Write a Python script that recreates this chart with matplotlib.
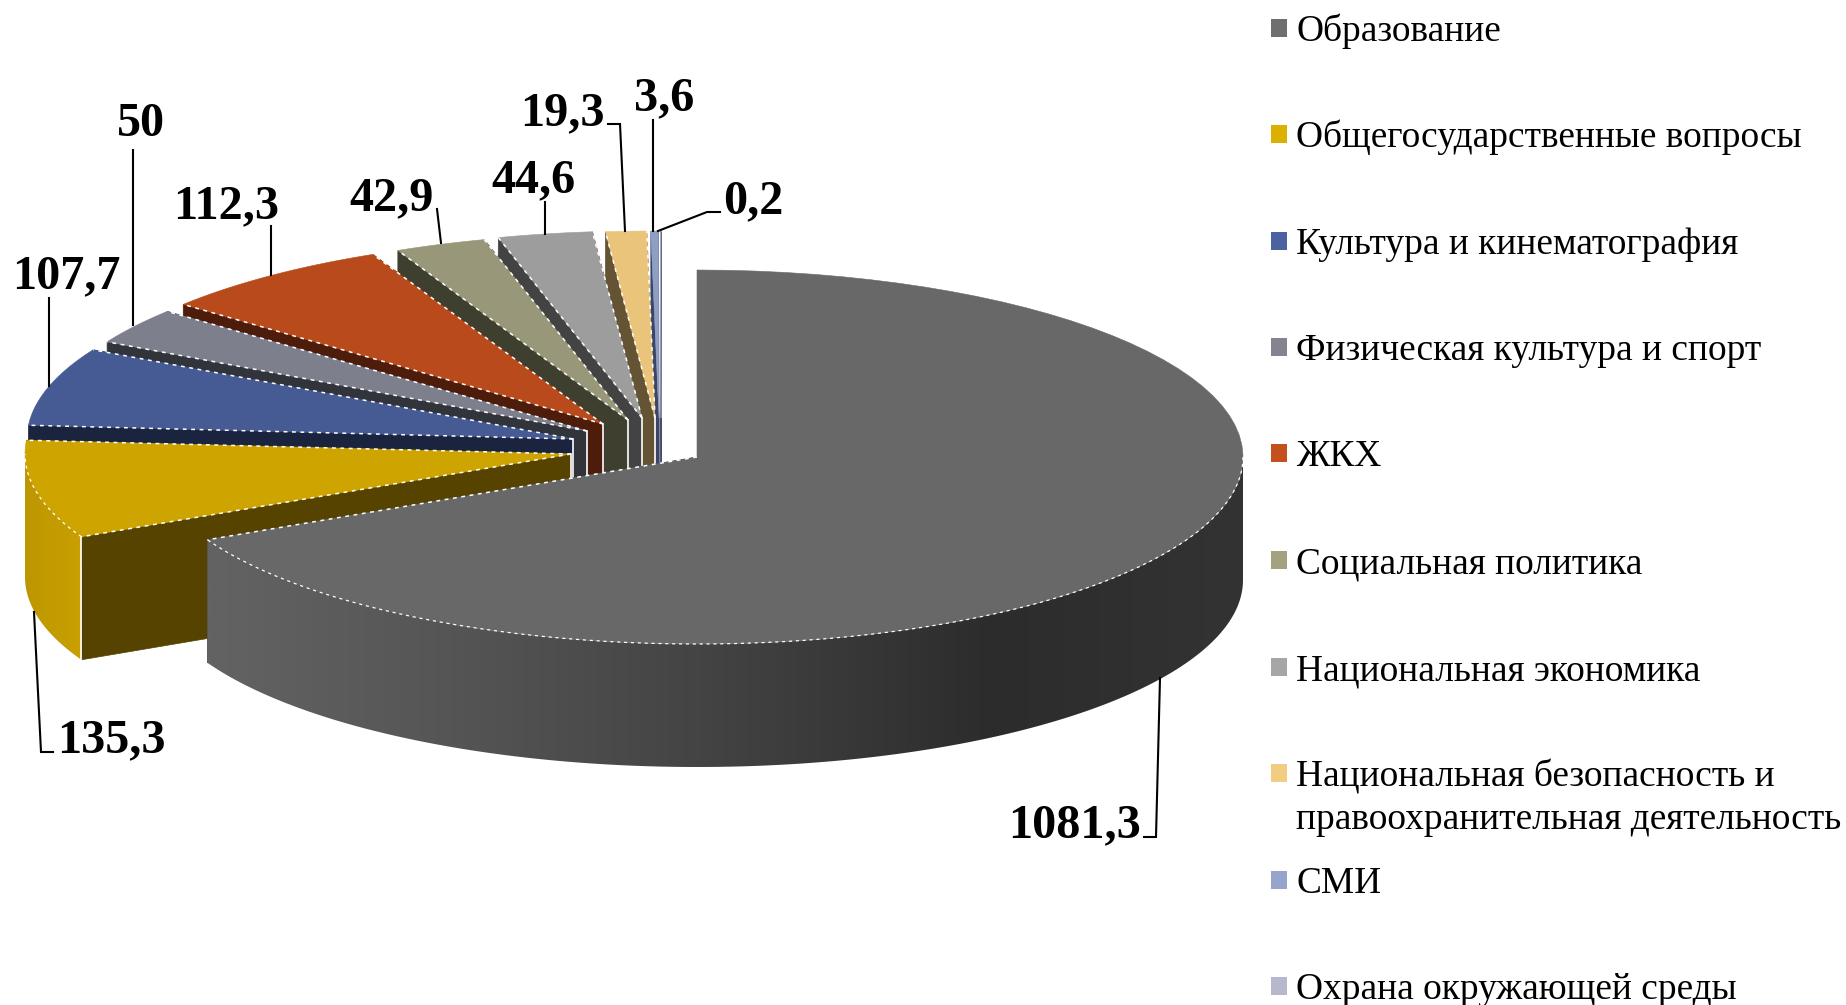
import numpy as np
import matplotlib
matplotlib.use('Agg')
import matplotlib.pyplot as plt
from matplotlib.colors import LinearSegmentedColormap
from matplotlib.patches import Polygon, Rectangle

plt.rcParams['font.family'] = ['Liberation Serif', 'DejaVu Sans']

# data
labels = ['Образование', 'Общегосударственные вопросы', 'Культура и кинематография',
          'Физическая культура и спорт', 'ЖКХ', 'Социальная политика',
          'Национальная экономика',
          'Национальная безопасность и\nправоохранительная деятельность',
          'СМИ', 'Охрана окружающей среды']
values = [1081.3, 135.3, 107.7, 50, 112.3, 42.9, 44.6, 19.3, 3.6, 0.2]
value_labels = ['1081,3', '135,3', '107,7', '50', '112,3', '42,9', '44,6', '19,3', '3,6', '0,2']

# colours
top_colors = ['#686868', '#cea500', '#465a94', '#7e7f8d', '#b94a1b',
              '#999779', '#9d9d9d', '#e9c47a', '#8f9fc4', '#b5b5c8']
wall_colors = ['#444444', '#574300', '#1b243e', '#32343b', '#4e1c0a',
               '#3f3f30', '#434343', '#645433', '#3a4568', '#4a4a60']
legend_colors = ['#6f6f6f', '#dcb000', '#4a62a0', '#83848f', '#c4501e',
                 '#a3a27f', '#a6a6a6', '#f2cc80', '#96a5cc', '#b8b8cc']

# layout, in pixels
cx, cy = 697, 457
rx, ry = 546, 187
depth = 123
offsets = [(0, 0), (-126, -3), (-124, -18), (-110, -26), (-94, -33),
           (-69, -37), (-55, -39), (-42, -39), (-38, -39), (-36, -39)]
label_pos = [(1008, 837), (57, 752), (12, 288), (117, 136), (173, 218),
             (349, 210), (491, 192), (520, 125), (634, 110), (723, 213)]
leaders = [[(1160, 678), (1156, 837), (1144, 837)],
           [(34, 612), (41, 752), (53, 752)],
           [(49, 298), (49, 386)],
           [(133, 150), (133, 325)],
           [(271, 226), (271, 275)],
           [(437, 209), (441, 243)],
           [(545, 202), (545, 234)],
           [(608, 124), (620, 124), (625, 231)],
           [(653, 120), (653, 231)],
           [(658, 231), (707, 212), (720, 212)]]
legend_y = [28, 134, 241, 347, 453, 560, 667, 773, 880, 986]

fig = plt.figure(figsize=(18.46, 10.05), dpi=100)
ax = fig.add_axes([0, 0, 1, 1])
ax.set_xlim(0, 1846)
ax.set_ylim(1005, 0)
ax.axis('off')

edges = np.concatenate([[0], np.cumsum(values)]) / np.sum(values) * 360

big_wall = LinearSegmentedColormap.from_list('big_wall', [
    (0.0, '#636363'), (0.235, '#555555'), (0.475, '#444444'), (0.76, '#2c2c2c'), (1.0, '#333333')])
yellow_wall = LinearSegmentedColormap.from_list('yellow_wall', ['#bd9700', '#c9a000'])
wall_cmaps = {0: big_wall, 1: yellow_wall}


def arc(a0, a1, dx, dy, n=80):
    t = np.radians(np.linspace(a0, a1, n))
    return np.column_stack([cx + dx + rx * np.sin(t), cy + dy - ry * np.cos(t)])


def dashed(pts, lw=1.1):
    pts = np.asarray(pts)
    ax.plot(pts[:, 0], pts[:, 1], color='white', lw=lw, ls=(0, (2.5, 3)), zorder=z + 0.5)


# back slices first, the big one last
z = 1
for i in range(len(values) - 1, -1, -1):
    a0, a1 = edges[i], edges[i + 1]
    dx, dy = offsets[i]
    tip = np.array([cx + dx, cy + dy])
    rim = arc(a0, a1, dx, dy)

    # flat walls along both cut edges
    for p in (rim[0], rim[-1]):
        quad = [tip, p, p + [0, depth], tip + [0, depth]]
        ax.add_patch(Polygon(quad, closed=True, fc=wall_colors[i], ec=wall_colors[i], lw=0.5, zorder=z))
    if 0 < i < 8:
        ax.plot([tip[0], tip[0]], [tip[1], tip[1] + depth], color='white', lw=1.2, zorder=z)

    # outer wall, only the part facing the viewer, shaded from left to right
    lo, hi = max(a0, 90), min(a1, 270)
    if hi > lo:
        front = arc(lo, hi, dx, dy, 200)
        outline = np.vstack([front, front[::-1] + [0, depth]])
        clip = Polygon(outline, closed=True, fc='none', ec='none', transform=ax.transData)
        ax.add_patch(clip)
        x0, x1 = outline[:, 0].min(), outline[:, 0].max()
        y0, y1 = outline[:, 1].min(), outline[:, 1].max()
        im = ax.imshow(np.linspace(0, 1, 400)[None, :], cmap=wall_cmaps[i], aspect='auto',
                       extent=(x0, x1, y1, y0), zorder=z + 0.1, interpolation='bilinear')
        im.set_clip_path(clip)
        dashed(front, 0.9)
        if i == 1:
            ax.plot([front[0][0]] * 2, [front[0][1], front[0][1] + depth], color='white', lw=1.2, zorder=z + 0.4)

    # top face
    top = np.vstack([tip, rim])
    ax.add_patch(Polygon(top, closed=True, fc=top_colors[i], ec=top_colors[i], lw=0.4, zorder=z + 0.2))
    if 0 < i < 8:
        dashed([tip, rim[0]])
        dashed([tip, rim[-1]])
    elif i == 0:
        dashed([tip, rim[-1]])
    z += 1

ax.set_xlim(0, 1846)
ax.set_ylim(1005, 0)

# value labels with leader lines
for i in range(len(values)):
    path = np.array(leaders[i])
    ax.plot(path[:, 0], path[:, 1], color='black', lw=1.5, zorder=50, solid_joinstyle='miter')
    ax.text(label_pos[i][0], label_pos[i][1], value_labels[i], fontsize=34.7, fontweight='bold',
            ha='left', va='baseline', color='black', zorder=51)

# legend
for i, name in enumerate(labels):
    ax.add_patch(Rectangle((1271, legend_y[i] - 9), 16, 18, fc=legend_colors[i], ec='none', zorder=50))
    for j, line in enumerate(name.split('\n')):
        ax.text(1296, legend_y[i] + 13 + j * 43, line, fontsize=26.9, ha='left', va='baseline',
                color='black', zorder=51)

fig.savefig('out.png', dpi=100, facecolor='white')
